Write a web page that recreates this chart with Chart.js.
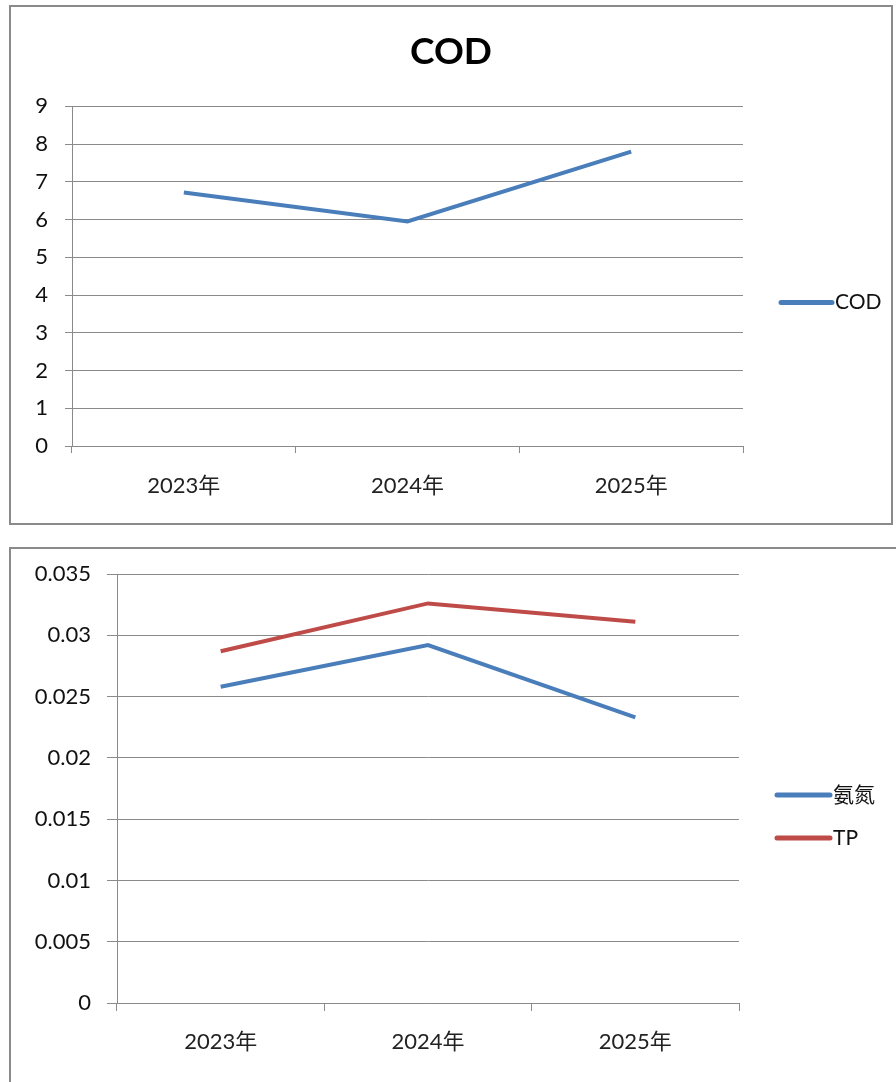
<!DOCTYPE html>
<html>
<head>
<meta charset="utf-8">
<script src="https://cdn.jsdelivr.net/npm/chart.js@4/dist/chart.umd.min.js"></script>
<style>
    body { margin: 0; background: #fff; overflow: hidden; width: 896px; height: 1082px; position: relative; }
    .box { position: absolute; border: 2px solid #8a8a8a; background: #fff; box-sizing: border-box; }
    #box1 { left: 9px; top: 5px; width: 884px; height: 520px; }
    #box2 { left: 9px; top: 547px; width: 900px; height: 560px; }
    canvas { display: block; }
</style>
</head>
<body>
<div class="box" id="box1"><canvas id="codChart" width="880" height="516"></canvas></div>
<div class="box" id="box2"><canvas id="nutrientChart" width="896" height="556"></canvas></div>
<script>
const years = ['2023年', '2024年', '2025年'];

const codValues = [6.72, 5.95, 7.8];
const codTicks = [0, 1, 2, 3, 4, 5, 6, 7, 8, 9];

const ammoniaValues = [0.0258, 0.0292, 0.0233];
const tpValues = [0.0287, 0.0326, 0.0311];
const nutrientTicks = [0, 0.005, 0.01, 0.015, 0.02, 0.025, 0.03, 0.035];
const nutrientTickLabels = ['0', '0.005', '0.01', '0.015', '0.02', '0.025', '0.03', '0.035'];

const FONT = "Lato, 'Noto Sans CJK SC', sans-serif";
const GRID = '#8a8a8a';
const BLUE = '#4a7ebb';
const RED = '#be4b48';

// legend drawn to the right of the plot, like the office chart
const sideLegend = {
    id: 'sideLegend',
    afterDraw(chart, args, opts) {
        const { ctx, chartArea } = chart;
        chart.data.datasets.forEach((ds, i) => {
            const x = chartArea.right + opts.left;
            const y = chartArea.top + opts.top + i * opts.gap;
            ctx.save();
            ctx.strokeStyle = ds.borderColor;
            ctx.lineWidth = 5;
            ctx.lineCap = 'round';
            ctx.beginPath();
            ctx.moveTo(x, y);
            ctx.lineTo(x + opts.len, y);
            ctx.stroke();
            ctx.fillStyle = '#111';
            ctx.font = '21px ' + FONT;
            ctx.textBaseline = 'middle';
            ctx.fillText(ds.label, x + opts.len + 3, y);
            ctx.restore();
        });
    }
};

const lineDataset = (label, data, color) => ({
    label: label,
    data: data,
    borderColor: color,
    backgroundColor: color,
    borderWidth: 4,
    pointRadius: 0,
    tension: 0,
    fill: false
});

const xScale = (tickLen, pad) => ({
    type: 'category',
    offset: true,
    grid: { offset: true, drawOnChartArea: false, drawTicks: true, tickLength: tickLen, color: GRID },
    border: { color: GRID, width: 1 },
    ticks: { padding: pad, color: '#222', font: { family: FONT, size: 22 } },
    afterFit: s => { s.height = 77; }
});

// fixed width, no label overhang, so the plot sits where the layout padding says
const fixWidth = w => s => {
    s.width = w;
    s.paddingTop = 0;
    s.paddingBottom = 0;
};

// empty scale on the right that just reserves room for the legend
const spacer = w => ({
    position: 'right',
    display: true,
    grid: { display: false },
    border: { display: false },
    ticks: { display: false },
    afterFit: fixWidth(w)
});

new Chart(document.getElementById('codChart'), {
    type: 'line',
    data: {
        labels: years,
        datasets: [lineDataset('COD', codValues, BLUE)]
    },
    options: {
        responsive: false,
        animation: false,
        layout: { padding: 0 },
        plugins: {
            legend: { display: false },
            tooltip: { enabled: false },
            title: {
                display: true,
                text: 'COD',
                color: '#000',
                font: { family: FONT, size: 37, weight: 'bold' },
                padding: { top: 23, bottom: 32 }
            },
            sideLegend: { left: 38, top: 196, gap: 43, len: 51 }
        },
        scales: {
            x: xScale(7, 20),
            y: {
                min: 0,
                max: 9,
                afterBuildTicks: s => { s.ticks = codTicks.map(v => ({ value: v })); },
                grid: { color: GRID, tickLength: 7 },
                border: { color: GRID, width: 1 },
                ticks: { padding: 17, color: '#111', font: { family: FONT, size: 22 } },
                afterFit: fixWidth(61)
            },
            pad: spacer(148)
        }
    },
    plugins: [sideLegend]
});

new Chart(document.getElementById('nutrientChart'), {
    type: 'line',
    data: {
        labels: years,
        datasets: [
            lineDataset('氨氮', ammoniaValues, BLUE),
            lineDataset('TP', tpValues, RED)
        ]
    },
    options: {
        responsive: false,
        animation: false,
        layout: { padding: { left: 0, right: 0, top: 25, bottom: 25 } },
        plugins: {
            legend: { display: false },
            tooltip: { enabled: false },
            sideLegend: { left: 38, top: 221, gap: 43, len: 53 }
        },
        scales: {
            x: xScale(8, 18),
            y: {
                min: 0,
                max: 0.035,
                afterBuildTicks: s => { s.ticks = nutrientTicks.map(v => ({ value: v })); },
                grid: { color: GRID, tickLength: 10 },
                border: { color: GRID, width: 1 },
                ticks: {
                    padding: 16,
                    color: '#111',
                    font: { family: FONT, size: 22 },
                    callback: (v, i) => nutrientTickLabels[i]
                },
                afterFit: fixWidth(106)
            },
            pad: spacer(168)
        }
    },
    plugins: [sideLegend]
});
</script>
</body>
</html>
